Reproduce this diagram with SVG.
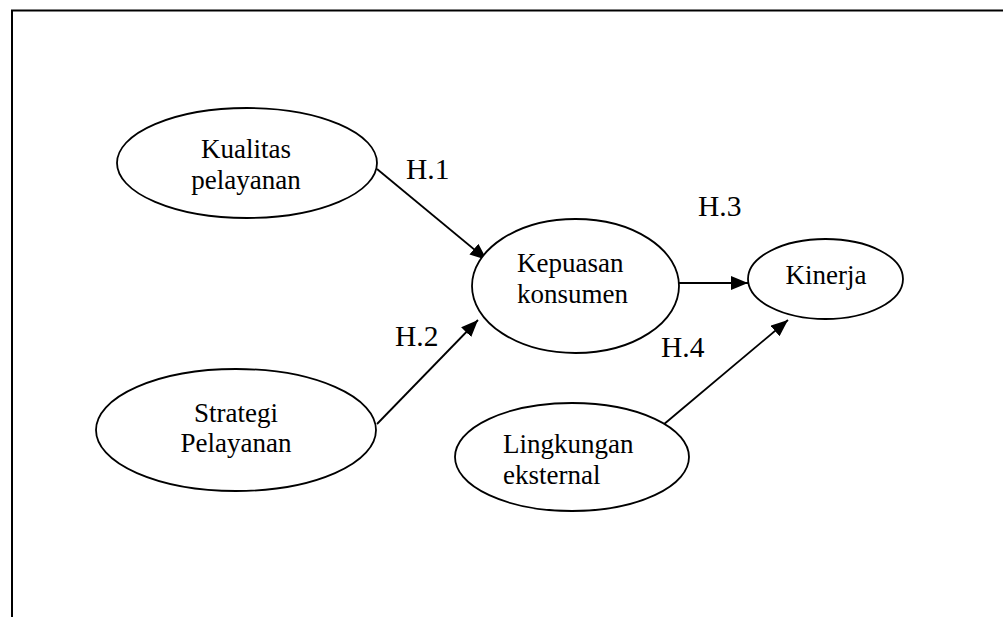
<svg xmlns="http://www.w3.org/2000/svg" width="1003" height="617" viewBox="0 0 1003 617">
  <style>
    .node { fill: #ffffff; stroke: #000000; stroke-width: 1.8; }
    .label { font-family: "Liberation Serif", "Times New Roman", serif; font-size: 27px; fill: #000000; }
    .hyp { font-family: "Liberation Serif", "Times New Roman", serif; font-size: 29.5px; fill: #000000; }
    .link { stroke: #000000; stroke-width: 1.8; fill: none; marker-end: url(#arrow); }
    .frame { stroke: #000000; stroke-width: 2; fill: none; }
  </style>
  <defs>
    <marker id="arrow" markerUnits="userSpaceOnUse" markerWidth="18" markerHeight="14" refX="17" refY="7" orient="auto">
      <path d="M0,0 L17,7 L0,14 Z" fill="#000000"/>
    </marker>
  </defs>

  <rect x="0" y="0" width="1003" height="617" fill="#ffffff"/>

  <!-- outer frame: open on the right and bottom -->
  <path class="frame" d="M12,617 V10.5 H1003"/>

  <!-- connectors -->
  <g id="connectors">
    <line class="link" x1="377" y1="169" x2="487" y2="260"/>
    <line class="link" x1="377" y1="424" x2="478" y2="320"/>
    <line class="link" x1="679" y1="283" x2="748" y2="283"/>
    <line class="link" x1="663" y1="425" x2="788" y2="320"/>
    <text class="hyp" x="406" y="179">H.1</text>
    <text class="hyp" x="395" y="346">H.2</text>
    <text class="hyp" x="698" y="216">H.3</text>
    <text class="hyp" x="661" y="357">H.4</text>
  </g>

  <g id="kualitas-pelayanan">
    <ellipse class="node" cx="247" cy="163" rx="130" ry="55"/>
    <text class="label" x="246" y="158" text-anchor="middle">Kualitas</text>
    <text class="label" x="246" y="189" text-anchor="middle">pelayanan</text>
  </g>

  <g id="strategi-pelayanan">
    <ellipse class="node" cx="236" cy="430" rx="140" ry="61"/>
    <text class="label" x="236" y="422" text-anchor="middle">Strategi</text>
    <text class="label" x="236" y="452" text-anchor="middle">Pelayanan</text>
  </g>

  <g id="kepuasan-konsumen">
    <ellipse class="node" cx="575.5" cy="286" rx="103.5" ry="67"/>
    <text class="label" x="517" y="272">Kepuasan</text>
    <text class="label" x="517" y="303">konsumen</text>
  </g>

  <g id="kinerja">
    <ellipse class="node" cx="825.5" cy="279" rx="77.5" ry="40"/>
    <text class="label" x="826" y="284" text-anchor="middle">Kinerja</text>
  </g>

  <g id="lingkungan-eksternal">
    <ellipse class="node" cx="572" cy="457" rx="117" ry="54"/>
    <text class="label" x="503" y="453">Lingkungan</text>
    <text class="label" x="503" y="484">eksternal</text>
  </g>
</svg>
